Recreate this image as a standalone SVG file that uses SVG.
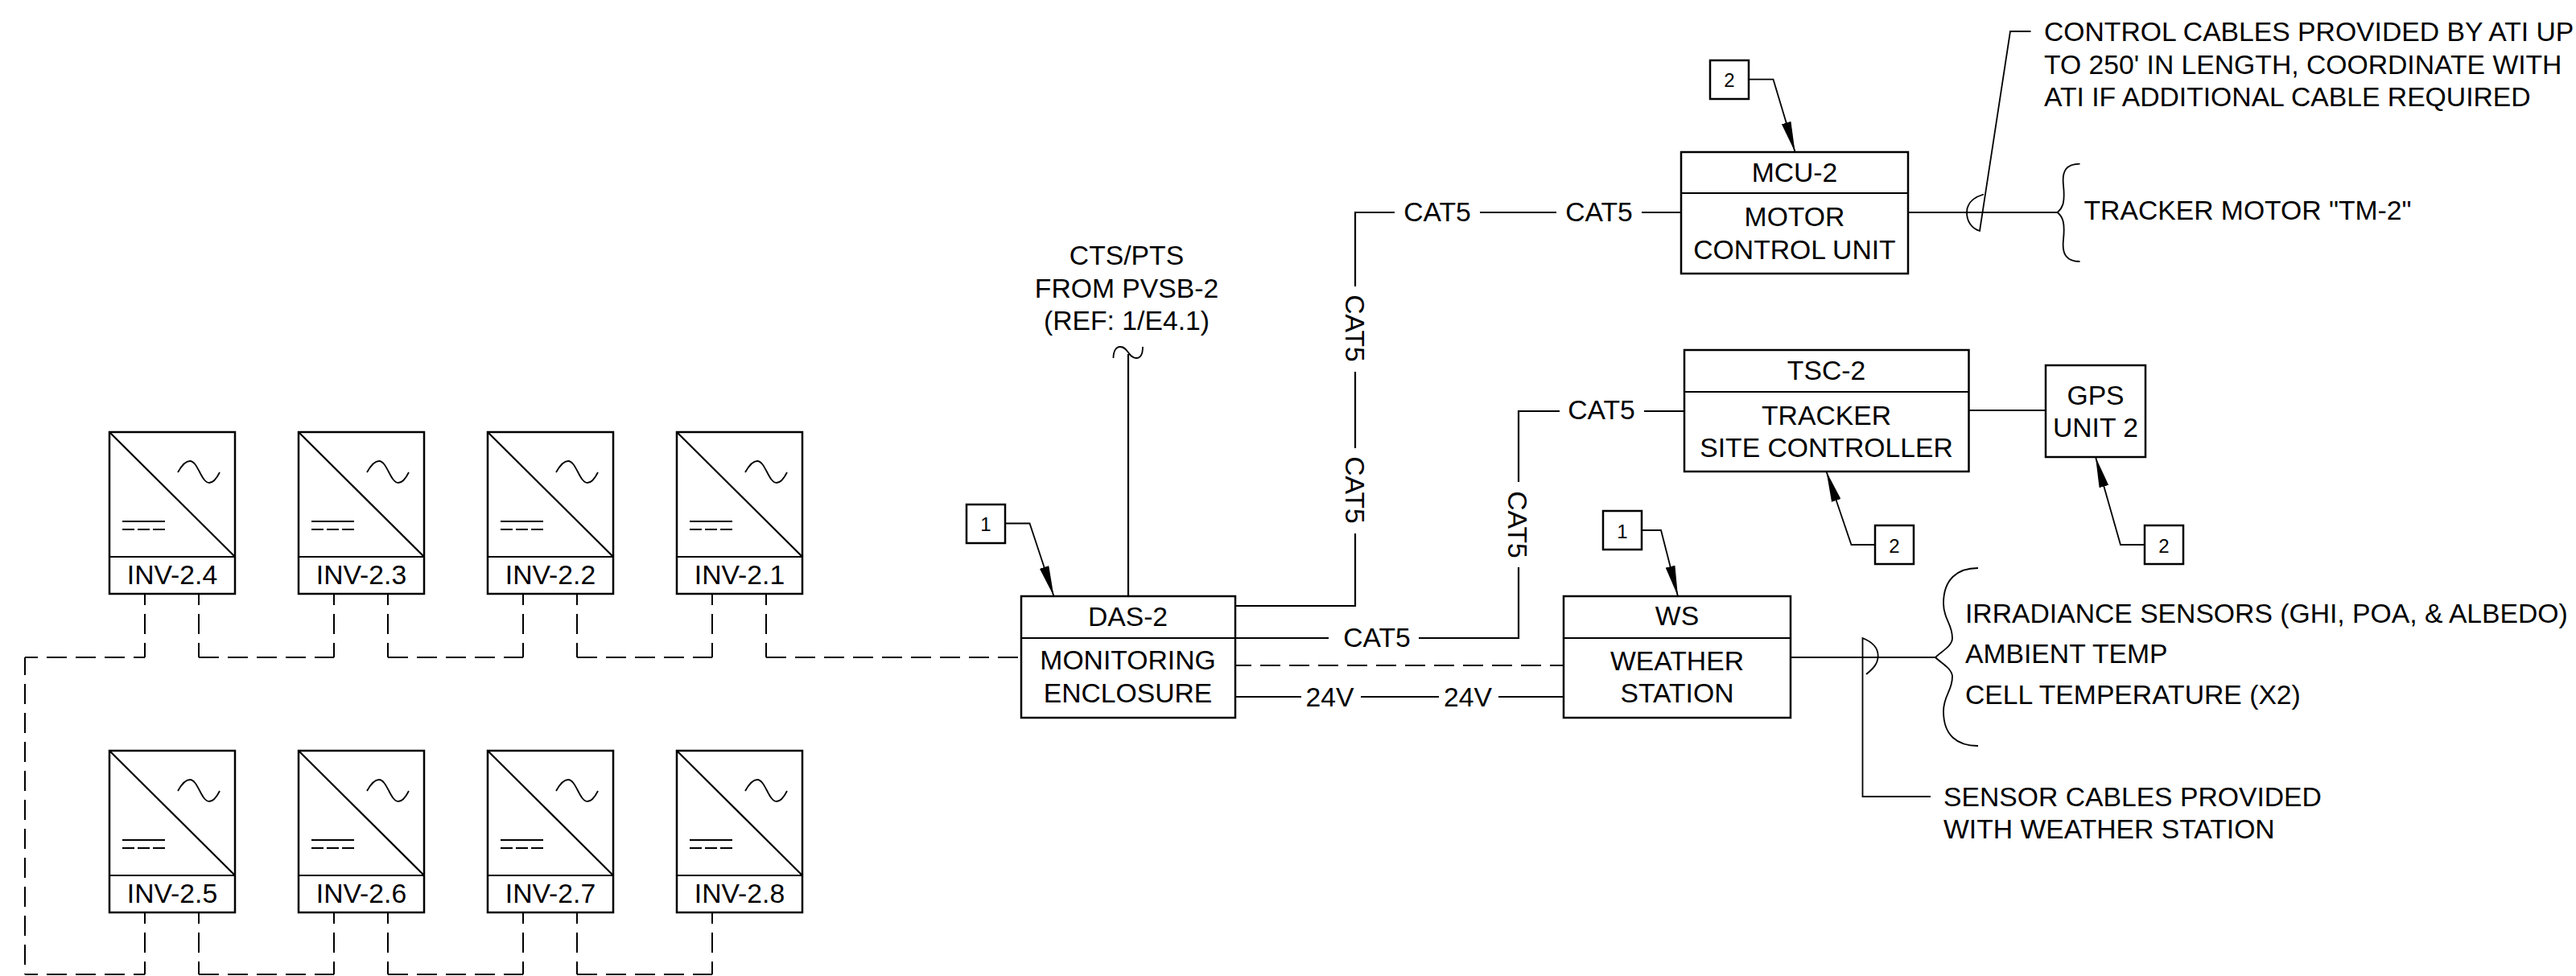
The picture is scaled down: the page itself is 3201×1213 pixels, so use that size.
<svg xmlns="http://www.w3.org/2000/svg" xmlns:xlink="http://www.w3.org/1999/xlink" width="3201" height="1213" viewBox="0 0 3201 1213">
<style>
text{font-family:"Liberation Sans",Arial,sans-serif;font-size:33.7px;fill:#000;text-anchor:middle}
text.l{text-anchor:start}
text.n{font-size:24px}
.b{fill:#fff;stroke:#000;stroke-width:2.5}
.s{fill:none;stroke:#000;stroke-width:2.2}
.t{fill:none;stroke:#000;stroke-width:1.8}
.d{fill:none;stroke:#000;stroke-width:2;stroke-dasharray:25 11}
.v{stroke-dashoffset:11}
.a{marker-end:url(#arrow)}
</style>
<defs>
<marker id="arrow" markerUnits="userSpaceOnUse" viewBox="0 0 38 12" refX="38" refY="6" markerWidth="38" markerHeight="12" orient="auto"><path d="M0 0L38 6L0 12Z" fill="#000"/></marker>
<g id="inv">
<rect class="b" x="136" y="537" width="156" height="201"/>
<path class="s" d="M136 692H292M136 537L292 692"/>
<path class="t" d="M221 587C226 578 231 573 236 573C246 573 250 600 260 600C265 600 269 595 273 587"/>
<path class="t" d="M152 648H205M152 658H167M171 658H186M190 658H205"/>
</g>
</defs>
<g id="connectors">
<path class="d v" d="M180 738V817M247 738V817M415 738V817M482 738V817M650 738V817M717 738V817M885 738V817M952 738V817"/>
<path class="d v" d="M180 1134V1211M247 1134V1211M415 1134V1211M482 1134V1211M650 1134V1211M717 1134V1211M885 1134V1211"/>
<path class="d v" d="M180 817H31M180 1211H31"/>
<path class="d" style="stroke-dashoffset:3" d="M31 817V1211"/>
<path class="d" d="M247 817H415M482 817H650M717 817H885M952 817H1268M247 1211H415M482 1211H650M717 1211H885"/>
<path class="d" style="stroke-dashoffset:5" d="M1535 827H1943"/>
<path class="s" d="M1402 741V440"/>
<path class="t" d="M1383.5 445C1383.5 436 1387 431 1392 431C1402 431 1402 445 1412 445C1417 445 1420 440 1420 431"/>
<path class="s" d="M1535 753H1684V663M1684 557V462M1684 356V264H1733M1839 264H1934M2040 264H2089"/>
<path class="s" d="M1535 793H1651M1763 793H1887V705M1887 599V511H1938M2043 511H2093"/>
<path class="s" d="M1535 866H1617M1691 866H1788M1862 866H1943"/>
<path class="s" d="M2371 264H2557M2446 510H2542M2225 817H2405"/>
<path class="t" d="M2584.5 203.600C2568 203.600 2562 212 2564 230C2566 250 2564 258 2556.600 264C2564 270 2566 278 2564 298C2562 316 2568 325 2584.500 325"/>
<path class="t" d="M2458 706C2432 706 2415 720 2415 750C2415 770 2426 775 2426 793C2426 803 2412 810 2405 817C2412 824 2426 831 2426 841C2426 859 2415 864 2415 884C2415 914 2432 927 2458 927"/>
<path class="t" d="M2465 241.500C2450 246 2444 254 2444 264C2444 275 2450 284 2460 287L2498 39H2523.500"/>
<path class="t" d="M2319 838C2329 830 2333.700 824 2333.700 815C2333.700 806 2327 798 2314.500 793V990H2399"/>
<path class="t a" d="M1250 650.500H1279.500L1309.500 741"/>
<path class="t a" d="M2040 659H2064L2085 741"/>
<path class="t a" d="M2173 98.700H2203.500L2230.600 189"/>
<path class="t a" d="M2330 677H2300.500L2269.500 586"/>
<path class="t a" d="M2665 677H2635L2604 568"/>
</g>
<g id="inv-2-4"><use href="#inv"/><text x="214" y="726">INV-2.4</text></g>
<g id="inv-2-3"><use href="#inv" x="235"/><text x="449" y="726">INV-2.3</text></g>
<g id="inv-2-2"><use href="#inv" x="470"/><text x="684" y="726">INV-2.2</text></g>
<g id="inv-2-1"><use href="#inv" x="705"/><text x="919" y="726">INV-2.1</text></g>
<g id="inv-2-5"><use href="#inv" y="396"/><text x="214" y="1122">INV-2.5</text></g>
<g id="inv-2-6"><use href="#inv" x="235" y="396"/><text x="449" y="1122">INV-2.6</text></g>
<g id="inv-2-7"><use href="#inv" x="470" y="396"/><text x="684" y="1122">INV-2.7</text></g>
<g id="inv-2-8"><use href="#inv" x="705" y="396"/><text x="919" y="1122">INV-2.8</text></g>
<g id="das-2"><rect class="b" x="1269" y="741" width="266" height="151"/><path class="s" d="M1269 793H1535"/>
<text x="1401.500" y="778">DAS-2</text><text x="1401.500" y="832">MONITORING</text><text x="1401.500" y="873">ENCLOSURE</text></g>
<g id="ws"><rect class="b" x="1943" y="741" width="282" height="151"/><path class="s" d="M1943 793H2225"/>
<text x="2084" y="777">WS</text><text x="2084" y="833">WEATHER</text><text x="2084" y="873">STATION</text></g>
<g id="mcu-2"><rect class="b" x="2089" y="189" width="282" height="151"/><path class="s" d="M2089 240H2371"/>
<text x="2230" y="226">MCU-2</text><text x="2230" y="281">MOTOR</text><text x="2230" y="322">CONTROL UNIT</text></g>
<g id="tsc-2"><rect class="b" x="2093" y="435" width="353.500" height="151"/><path class="s" d="M2093 487H2446.500"/>
<text x="2269.500" y="472">TSC-2</text><text x="2269.500" y="528">TRACKER</text><text x="2269.500" y="568">SITE CONTROLLER</text></g>
<g id="gps"><rect class="b" x="2542" y="454" width="124" height="114"/><text x="2604" y="503">GPS</text><text x="2604" y="543">UNIT 2</text></g>
<g id="note-das"><rect class="b" x="1201" y="627" width="48" height="48"/><text class="n" x="1225" y="660">1</text></g>
<g id="note-ws"><rect class="b" x="1992" y="635" width="48" height="48"/><text class="n" x="2016" y="669">1</text></g>
<g id="note-mcu"><rect class="b" x="2125" y="75" width="48" height="48"/><text class="n" x="2149" y="108">2</text></g>
<g id="note-tsc"><rect class="b" x="2330" y="653" width="48" height="48"/><text class="n" x="2354" y="687">2</text></g>
<g id="note-gps"><rect class="b" x="2665" y="653" width="48" height="48"/><text class="n" x="2689" y="687">2</text></g>
<g id="labels">
<text x="1400" y="329">CTS/PTS</text><text x="1400" y="370">FROM PVSB-2</text><text x="1400" y="410">(REF: 1/E4.1)</text>
<text x="1786" y="275">CAT5</text><text x="1987" y="275">CAT5</text><text x="1990" y="521">CAT5</text><text x="1711" y="804">CAT5</text>
<text transform="translate(1672 408) rotate(90)">CAT5</text>
<text transform="translate(1672 609) rotate(90)">CAT5</text>
<text transform="translate(1874 652) rotate(90)">CAT5</text>
<text x="1652.500" y="878">24V</text><text x="1824" y="878">24V</text>
<text class="l" x="2540" y="51">CONTROL CABLES PROVIDED BY ATI UP</text>
<text class="l" x="2540" y="91.500">TO 250' IN LENGTH, COORDINATE WITH</text>
<text class="l" x="2540" y="132">ATI IF ADDITIONAL CABLE REQUIRED</text>
<text class="l" x="2589.500" y="273">TRACKER MOTOR "TM-2"</text>
<text class="l" x="2442" y="774">IRRADIANCE SENSORS (GHI, POA, &amp; ALBEDO)</text>
<text class="l" x="2442" y="824">AMBIENT TEMP</text>
<text class="l" x="2442" y="875">CELL TEMPERATURE (X2)</text>
<text class="l" x="2415" y="1002">SENSOR CABLES PROVIDED</text>
<text class="l" x="2415" y="1042">WITH WEATHER STATION</text>
</g>
</svg>
